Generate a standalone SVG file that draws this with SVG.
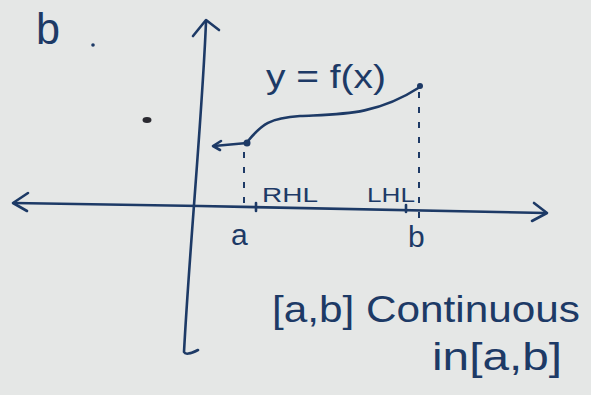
<svg xmlns="http://www.w3.org/2000/svg" width="591" height="395" viewBox="0 0 591 395">
<style>
.ink{fill:none;stroke:#1d3a66;stroke-width:2.6;stroke-linecap:round;stroke-linejoin:round}
.dash{fill:none;stroke:#1d3a66;stroke-width:2;stroke-dasharray:6 9}
.t{font-family:"Liberation Sans",Arial,sans-serif;fill:#1d3a66}
</style>
<rect width="591" height="395" fill="#e5e7e6"/>
<g id="connectors">
<path class="ink" d="M206 22 C202 120 190 240 184 352 Q186 356 198 350"/>
<path class="ink" d="M193 36 L206 20 L219 30"/>
<path class="ink" d="M14 203 L200 206 L545 213"/>
<path class="ink" d="M28 193 L13 203 L27 211"/>
<path class="ink" d="M534 203 L547 213 L532 221"/>
<path class="ink" d="M247 143 L214 146"/>
<path class="ink" d="M221 141 L213 146 L220 150"/>
<path class="ink" d="M248 141 C262 124 270 118 300 116 C340 114 375 116 420 87"/>
<path class="dash" d="M244 152 L244 205"/>
<path class="dash" d="M419 92 L419 218"/>
<path class="ink" d="M256 203 L256 211"/>
<path class="ink" d="M406 205 L406 212"/>
</g>
<g id="points">
<circle cx="247" cy="143" r="3.5" fill="#1d3a66"/>
<circle cx="420" cy="86" r="3" fill="#1d3a66"/>
<ellipse cx="147" cy="120" rx="4.5" ry="3" fill="#2a2a30"/>
<circle cx="93" cy="45" r="1.8" fill="#1d3a66"/>
</g>
<g id="labels">
<text class="t" x="36" y="44" font-size="44" textLength="24" lengthAdjust="spacingAndGlyphs">b</text>
<text class="t" x="266" y="88" font-size="34" textLength="120" lengthAdjust="spacingAndGlyphs">y = f(x)</text>
<text class="t" x="262" y="202" font-size="20" textLength="56" lengthAdjust="spacingAndGlyphs">RHL</text>
<text class="t" x="367" y="202" font-size="20" textLength="48" lengthAdjust="spacingAndGlyphs">LHL</text>
<text class="t" x="231" y="245" font-size="30">a</text>
<text class="t" x="408" y="247" font-size="30">b</text>
<text class="t" x="272" y="322" font-size="36" textLength="308" lengthAdjust="spacingAndGlyphs">[a,b] Continuous</text>
<text class="t" x="432" y="370" font-size="38" textLength="130" lengthAdjust="spacingAndGlyphs">in[a,b]</text>
</g>
</svg>
